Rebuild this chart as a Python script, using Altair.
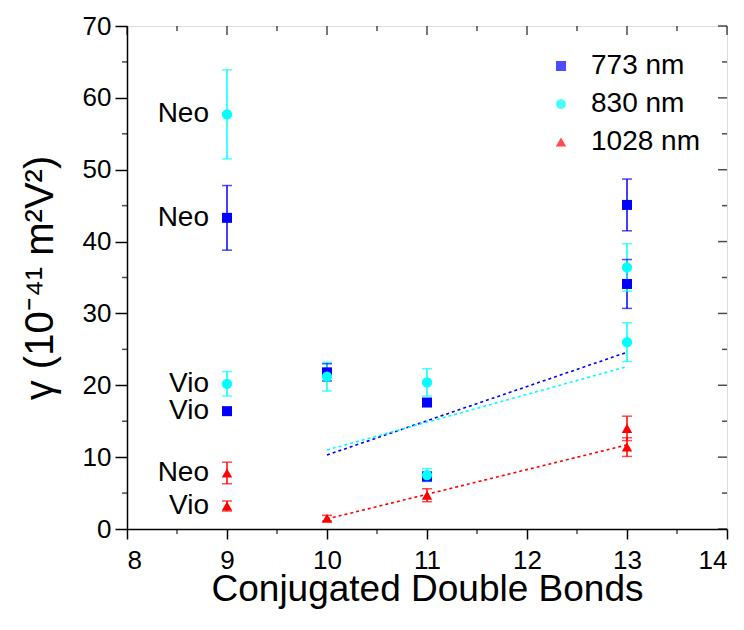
import altair as alt
import pandas as pd

# Second hyperpolarizability vs. number of conjugated double bonds
series_names = ["773 nm", "830 nm", "1028 nm"]
series_colors = ["#0000FF", "#00FFFF", "#FF0000"]
series_shapes = ["square", "circle", "triangle-up"]
series_sizes = [100, 110, 260]

x_773 = [9, 9, 10, 11, 11, 13, 13]
y_773 = [43.3, 16.4, 21.8, 17.6, 7.3, 45.1, 34.1]
e_773 = [4.5, 0.0, 1.2, 0.5, 0.6, 3.6, 3.4]

x_830 = [9, 9, 10, 11, 11, 13, 13]
y_830 = [57.7, 20.2, 21.2, 20.4, 7.5, 36.4, 26.0]
e_830 = [6.2, 1.7, 2.0, 1.9, 0.9, 3.3, 2.7]

x_1028 = [9, 9, 10, 11, 13, 13]
y_1028 = [7.8, 3.2, 1.5, 4.7, 14.0, 11.4]
e_1028 = [1.5, 0.7, 0.4, 0.9, 1.7, 1.3]

# linear trend lines, drawn between their end points
fit_x = [10, 13]
fit_773 = [10.3, 24.6]
fit_830 = [11.0, 22.6]
fit_1028 = [1.4, 11.7]

# carotenoid labels next to the 9-bond points
label_text = ["Neo", "Neo", "Vio", "Vio", "Neo", "Vio"]
label_y = [57.7, 43.3, 20.2, 16.4, 7.8, 3.2]
label_x = [9, 9, 9, 9, 9, 9]

x_ticks = [8, 9, 10, 11, 12, 13, 14]
y_ticks = [0, 10, 20, 30, 40, 50, 60, 70]
x_minor = [8.5, 9.5, 10.5, 11.5, 12.5, 13.5]
y_minor = [5, 15, 25, 35, 45, 55, 65]

FONT = "Liberation Sans"

rows = []
for name, color, xs_, ys_, es_ in [
    ("773 nm", "#0000FF", x_773, y_773, e_773),
    ("830 nm", "#00FFFF", x_830, y_830, e_830),
    ("1028 nm", "#FF0000", x_1028, y_1028, e_1028),
]:
    for xv, yv, ev in zip(xs_, ys_, es_):
        rows.append({"series": name, "hex": color, "x": xv, "y": yv,
                     "lo": yv - ev, "hi": yv + ev, "err": ev})
pts = pd.DataFrame(rows)
errs = pts[pts["err"] > 0]

fits = pd.DataFrame(
    [{"series": "773 nm", "hex": "#0000FF", "x": a, "y": b} for a, b in zip(fit_x, fit_773)]
    + [{"series": "830 nm", "hex": "#00FFFF", "x": a, "y": b} for a, b in zip(fit_x, fit_830)]
    + [{"series": "1028 nm", "hex": "#FF0000", "x": a, "y": b} for a, b in zip(fit_x, fit_1028)]
)
labels = pd.DataFrame({"x": label_x, "y": label_y, "text": label_text})

xs = alt.Scale(domain=[8, 14], nice=False, zero=False)
ys = alt.Scale(domain=[0, 70], nice=False, zero=False)

x_axis = alt.Axis(values=x_ticks, format="d", title="Conjugated Double Bonds", grid=False,
                  tickSize=10, tickWidth=1.5, domainWidth=1.5, domainColor="black",
                  tickColor="black", labelFontSize=26, labelFont=FONT, labelColor="black",
                  labelPadding=8, titleFontSize=37, titleFont=FONT, titleFontWeight="normal",
                  titleColor="black", titleY=71, titleBaseline="alphabetic")
y_axis = alt.Axis(values=y_ticks, format="d", title="\u03b3 (10\u207b\u2074\u00b9 m\u00b2V\u00b2)",
                  grid=False, tickSize=12, tickWidth=1.5, domainWidth=1.5, domainColor="black",
                  tickColor="black", labelFontSize=26, labelFont=FONT, labelColor="black",
                  labelPadding=4, titleFontSize=40, titleFont=FONT, titleFontWeight="normal",
                  titleColor="black", titlePadding=22)

X = alt.X("x:Q", scale=xs, axis=x_axis)
Y = alt.Y("y:Q", scale=ys, axis=y_axis)

legend = alt.Legend(orient="none", legendX=420, legendY=26, title=None,
                    labelFontSize=28, labelFont=FONT, labelColor="black",
                    symbolStrokeWidth=0, symbolOpacity=1, rowPadding=10, labelOffset=16)

color_scale = alt.Scale(domain=series_names, range=series_colors)
shape_scale = alt.Scale(domain=series_names, range=series_shapes)
size_scale = alt.Scale(domain=series_names, range=series_sizes)

fit_layer = alt.Chart(fits).mark_line(strokeWidth=1.6, strokeDash=[3, 3]).encode(
    x=alt.X("x:Q", scale=xs), y=alt.Y("y:Q", scale=ys),
    color=alt.Color("hex:N", scale=None), detail="series:N",
)

err_rule = alt.Chart(errs).mark_rule(strokeWidth=1.5).encode(
    x=alt.X("x:Q", scale=xs), y=alt.Y("lo:Q", scale=ys), y2="hi:Q",
    color=alt.Color("hex:N", scale=None),
)
cap_lo = alt.Chart(errs).mark_tick(orient="horizontal", size=10, thickness=1.5).encode(
    x=alt.X("x:Q", scale=xs), y=alt.Y("lo:Q", scale=ys),
    color=alt.Color("hex:N", scale=None),
)
cap_hi = alt.Chart(errs).mark_tick(orient="horizontal", size=10, thickness=1.5).encode(
    x=alt.X("x:Q", scale=xs), y=alt.Y("hi:Q", scale=ys),
    color=alt.Color("hex:N", scale=None),
)

points = alt.Chart(pts).mark_point(filled=True, opacity=1).encode(
    x=X, y=Y,
    color=alt.Color("series:N", scale=color_scale, legend=legend, sort=series_names),
    shape=alt.Shape("series:N", scale=shape_scale, legend=legend, sort=series_names),
    size=alt.Size("series:N", scale=size_scale, legend=legend, sort=series_names),
)

text_layer = alt.Chart(labels).mark_text(
    align="right", baseline="middle", dx=-18, fontSize=28, font=FONT, color="black"
).encode(x=alt.X("x:Q", scale=xs), y=alt.Y("y:Q", scale=ys), text="text:N")

# minor ticks (outside) on bottom/left, mirrored inward ticks on top/right
bottom_minor = alt.Chart(pd.DataFrame({"x": x_minor, "y": [0] * len(x_minor)})).mark_tick(
    orient="vertical", size=5, thickness=1.5, color="black", yOffset=2.5
).encode(x=alt.X("x:Q", scale=xs), y=alt.Y("y:Q", scale=ys))
left_minor = alt.Chart(pd.DataFrame({"y": y_minor, "x": [8] * len(y_minor)})).mark_tick(
    orient="horizontal", size=5, thickness=1.5, color="black", xOffset=-2.5
).encode(x=alt.X("x:Q", scale=xs), y=alt.Y("y:Q", scale=ys))
top_major = alt.Chart(pd.DataFrame({"x": x_ticks, "y": [70] * len(x_ticks)})).mark_tick(
    orient="vertical", size=9, thickness=1.5, color="black", yOffset=4.5
).encode(x=alt.X("x:Q", scale=xs), y=alt.Y("y:Q", scale=ys))
top_minor = alt.Chart(pd.DataFrame({"x": x_minor, "y": [70] * len(x_minor)})).mark_tick(
    orient="vertical", size=5, thickness=1.5, color="black", yOffset=2.5
).encode(x=alt.X("x:Q", scale=xs), y=alt.Y("y:Q", scale=ys))
right_major = alt.Chart(pd.DataFrame({"y": y_ticks, "x": [14] * len(y_ticks)})).mark_tick(
    orient="horizontal", size=9, thickness=1.5, color="black", xOffset=-4.5
).encode(x=alt.X("x:Q", scale=xs), y=alt.Y("y:Q", scale=ys))
right_minor = alt.Chart(pd.DataFrame({"y": y_minor, "x": [14] * len(y_minor)})).mark_tick(
    orient="horizontal", size=5, thickness=1.5, color="black", xOffset=-2.5
).encode(x=alt.X("x:Q", scale=xs), y=alt.Y("y:Q", scale=ys))

chart = alt.layer(
    fit_layer, err_rule, cap_lo, cap_hi, points, text_layer,
    bottom_minor, left_minor, top_major, top_minor, right_major, right_minor,
).properties(
    width=600, height=503,
    autosize=alt.AutoSizeParams(type="none"),
    padding={"left": 127, "top": 26, "right": 17, "bottom": 101},
).configure_view(
    stroke="black", strokeWidth=1.5
).configure(background="white")

chart.save("out.html", embed_options={"renderer": "svg", "actions": False})
